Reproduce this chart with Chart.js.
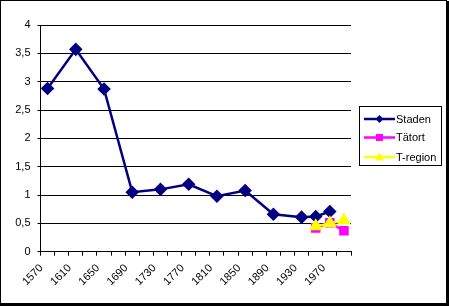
<!DOCTYPE html>
<html>
<head>
<meta charset="utf-8">
<script src="https://cdn.jsdelivr.net/npm/chart.js@4"></script>
<style>
html,body{margin:0;padding:0;background:#fff;}
#wrap{width:449px;height:306px;position:relative;}
</style>
</head>
<body>
<div id="wrap"><canvas id="c" width="449" height="306"></canvas></div>
<script>
// Categories: every 20 years, 1570 .. 1990
const categories = ["1570","1590","1610","1630","1650","1670","1690","1710","1730","1750","1770","1790","1810","1830","1850","1870","1890","1910","1930","1950","1970","1990"];
const yTicks = [0, 0.5, 1, 1.5, 2, 2.5, 3, 3.5, 4];
const staden = [2.88, null, 3.57, null, 2.87, null, 1.05, null, 1.10, null, 1.19, null, 0.98, null, 1.08, null, 0.66, null, 0.61, 0.62, 0.71, null];
const tatort = [null, null, null, null, null, null, null, null, null, null, null, null, null, null, null, null, null, null, null, 0.42, 0.51, 0.37];
const tregion = [null, null, null, null, null, null, null, null, null, null, null, null, null, null, null, null, null, null, null, 0.45, 0.50, 0.55];
const seriesNames = ["Staden", "Tätort", "T-region"];

const FONT = "'Liberation Sans', Arial, sans-serif";

const framePlugin = {
  id: 'frame',
  beforeDraw(chart) {
    const ctx = chart.ctx;
    ctx.save();
    ctx.fillStyle = '#fff';
    ctx.fillRect(0, 0, chart.width, chart.height);
    ctx.restore();
  },
  afterDraw(chart) {
    const ctx = chart.ctx;
    ctx.save();
    ctx.fillStyle = '#000';
    ctx.fillRect(0, 0, 447, 1);
    ctx.fillRect(0, 0, 1, 304);
    ctx.fillRect(446, 1, 3, 305);
    ctx.fillRect(0, 303, 449, 3);
    // legend
    const lx = 359.5, ly = 106.5, lw = 82, lh = 59;
    ctx.fillStyle = '#fff';
    ctx.fillRect(lx, ly, lw, lh);
    ctx.strokeStyle = '#000';
    ctx.lineWidth = 1;
    ctx.strokeRect(lx, ly, lw, lh);
    const rows = [119, 137.5, 157];
    const ds = chart.data.datasets;
    ctx.font = '11px ' + FONT;
    ctx.textBaseline = 'middle';
    ds.forEach((d, i) => {
      const y = rows[i];
      ctx.strokeStyle = d.borderColor;
      ctx.lineWidth = 2.5;
      ctx.beginPath();
      ctx.moveTo(364, y);
      ctx.lineTo(395, y);
      ctx.stroke();
      ctx.fillStyle = d.pointBackgroundColor;
      const cx = 379.5;
      ctx.beginPath();
      if (d.pointStyle === 'rectRot') {
        ctx.moveTo(cx, y - 4); ctx.lineTo(cx + 4, y); ctx.lineTo(cx, y + 4); ctx.lineTo(cx - 4, y);
      } else if (d.pointStyle === 'rect') {
        ctx.rect(cx - 3.5, y - 3.5, 7, 7);
      } else {
        ctx.moveTo(cx, y - 4.5); ctx.lineTo(cx + 4.5, y + 3.5); ctx.lineTo(cx - 4.5, y + 3.5);
      }
      ctx.closePath();
      ctx.fill();
      ctx.fillStyle = '#000';
      ctx.fillText(d.label, 396, y + 0.5);
    });
    ctx.restore();
  }
};

new Chart(document.getElementById('c'), {
  type: 'line',
  data: {
    labels: categories,
    datasets: [
      { label: seriesNames[0], data: staden, order: 3, borderColor: '#000080', backgroundColor: '#000080', pointBackgroundColor: '#000080', pointBorderColor: '#000080', pointStyle: 'rectRot', pointRadius: 5, borderWidth: 2.5, spanGaps: true, tension: 0 },
      { label: seriesNames[1], data: tatort, order: 2, borderColor: '#FF00FF', backgroundColor: '#FF00FF', pointBackgroundColor: '#FF00FF', pointBorderColor: '#FF00FF', pointStyle: 'rect', pointRadius: 5, borderWidth: 2.5, spanGaps: true, tension: 0 },
      { label: seriesNames[2], data: tregion, order: 1, borderColor: '#FFFF00', backgroundColor: '#FFFF00', pointBackgroundColor: '#FFFF00', pointBorderColor: '#FFFF00', pointStyle: 'triangle', pointRadius: 5.5, borderWidth: 2.5, spanGaps: true, tension: 0 }
    ]
  },
  options: {
    responsive: false,
    animation: false,
    devicePixelRatio: 1,
    layout: { padding: { left: 0, top: 25, right: 98, bottom: 0 } },
    plugins: { legend: { display: false }, tooltip: { enabled: false } },
    scales: {
      x: {
        type: 'category',
        offset: true,
        afterFit(s) { s.height = 54.3; },
        border: { color: '#000', width: 1 },
        grid: { offset: true, drawOnChartArea: false, drawTicks: true, tickLength: 4, color: '#000', tickColor: '#000' },
        ticks: {
          autoSkip: false,
          maxRotation: 45, minRotation: 45,
          padding: 6,
          labelOffset: -6,
          color: '#000',
          font: { family: FONT, size: 11 },
          callback(v, i) { return i % 2 === 0 ? categories[i] : ''; }
        }
      },
      y: {
        min: 0, max: 4,
        afterFit(s) { s.width = 40.5; },
        afterBuildTicks(s) { s.ticks = yTicks.map(v => ({ value: v })); },
        border: { color: '#000', width: 1 },
        grid: { color: '#000', tickColor: '#000', tickLength: 3, lineWidth: 1 },
        ticks: {
          padding: 7,
          color: '#000',
          font: { family: FONT, size: 11 },
          callback(v) { return String(v).replace('.', ','); }
        }
      }
    }
  },
  plugins: [framePlugin]
});
</script>
</body>
</html>
